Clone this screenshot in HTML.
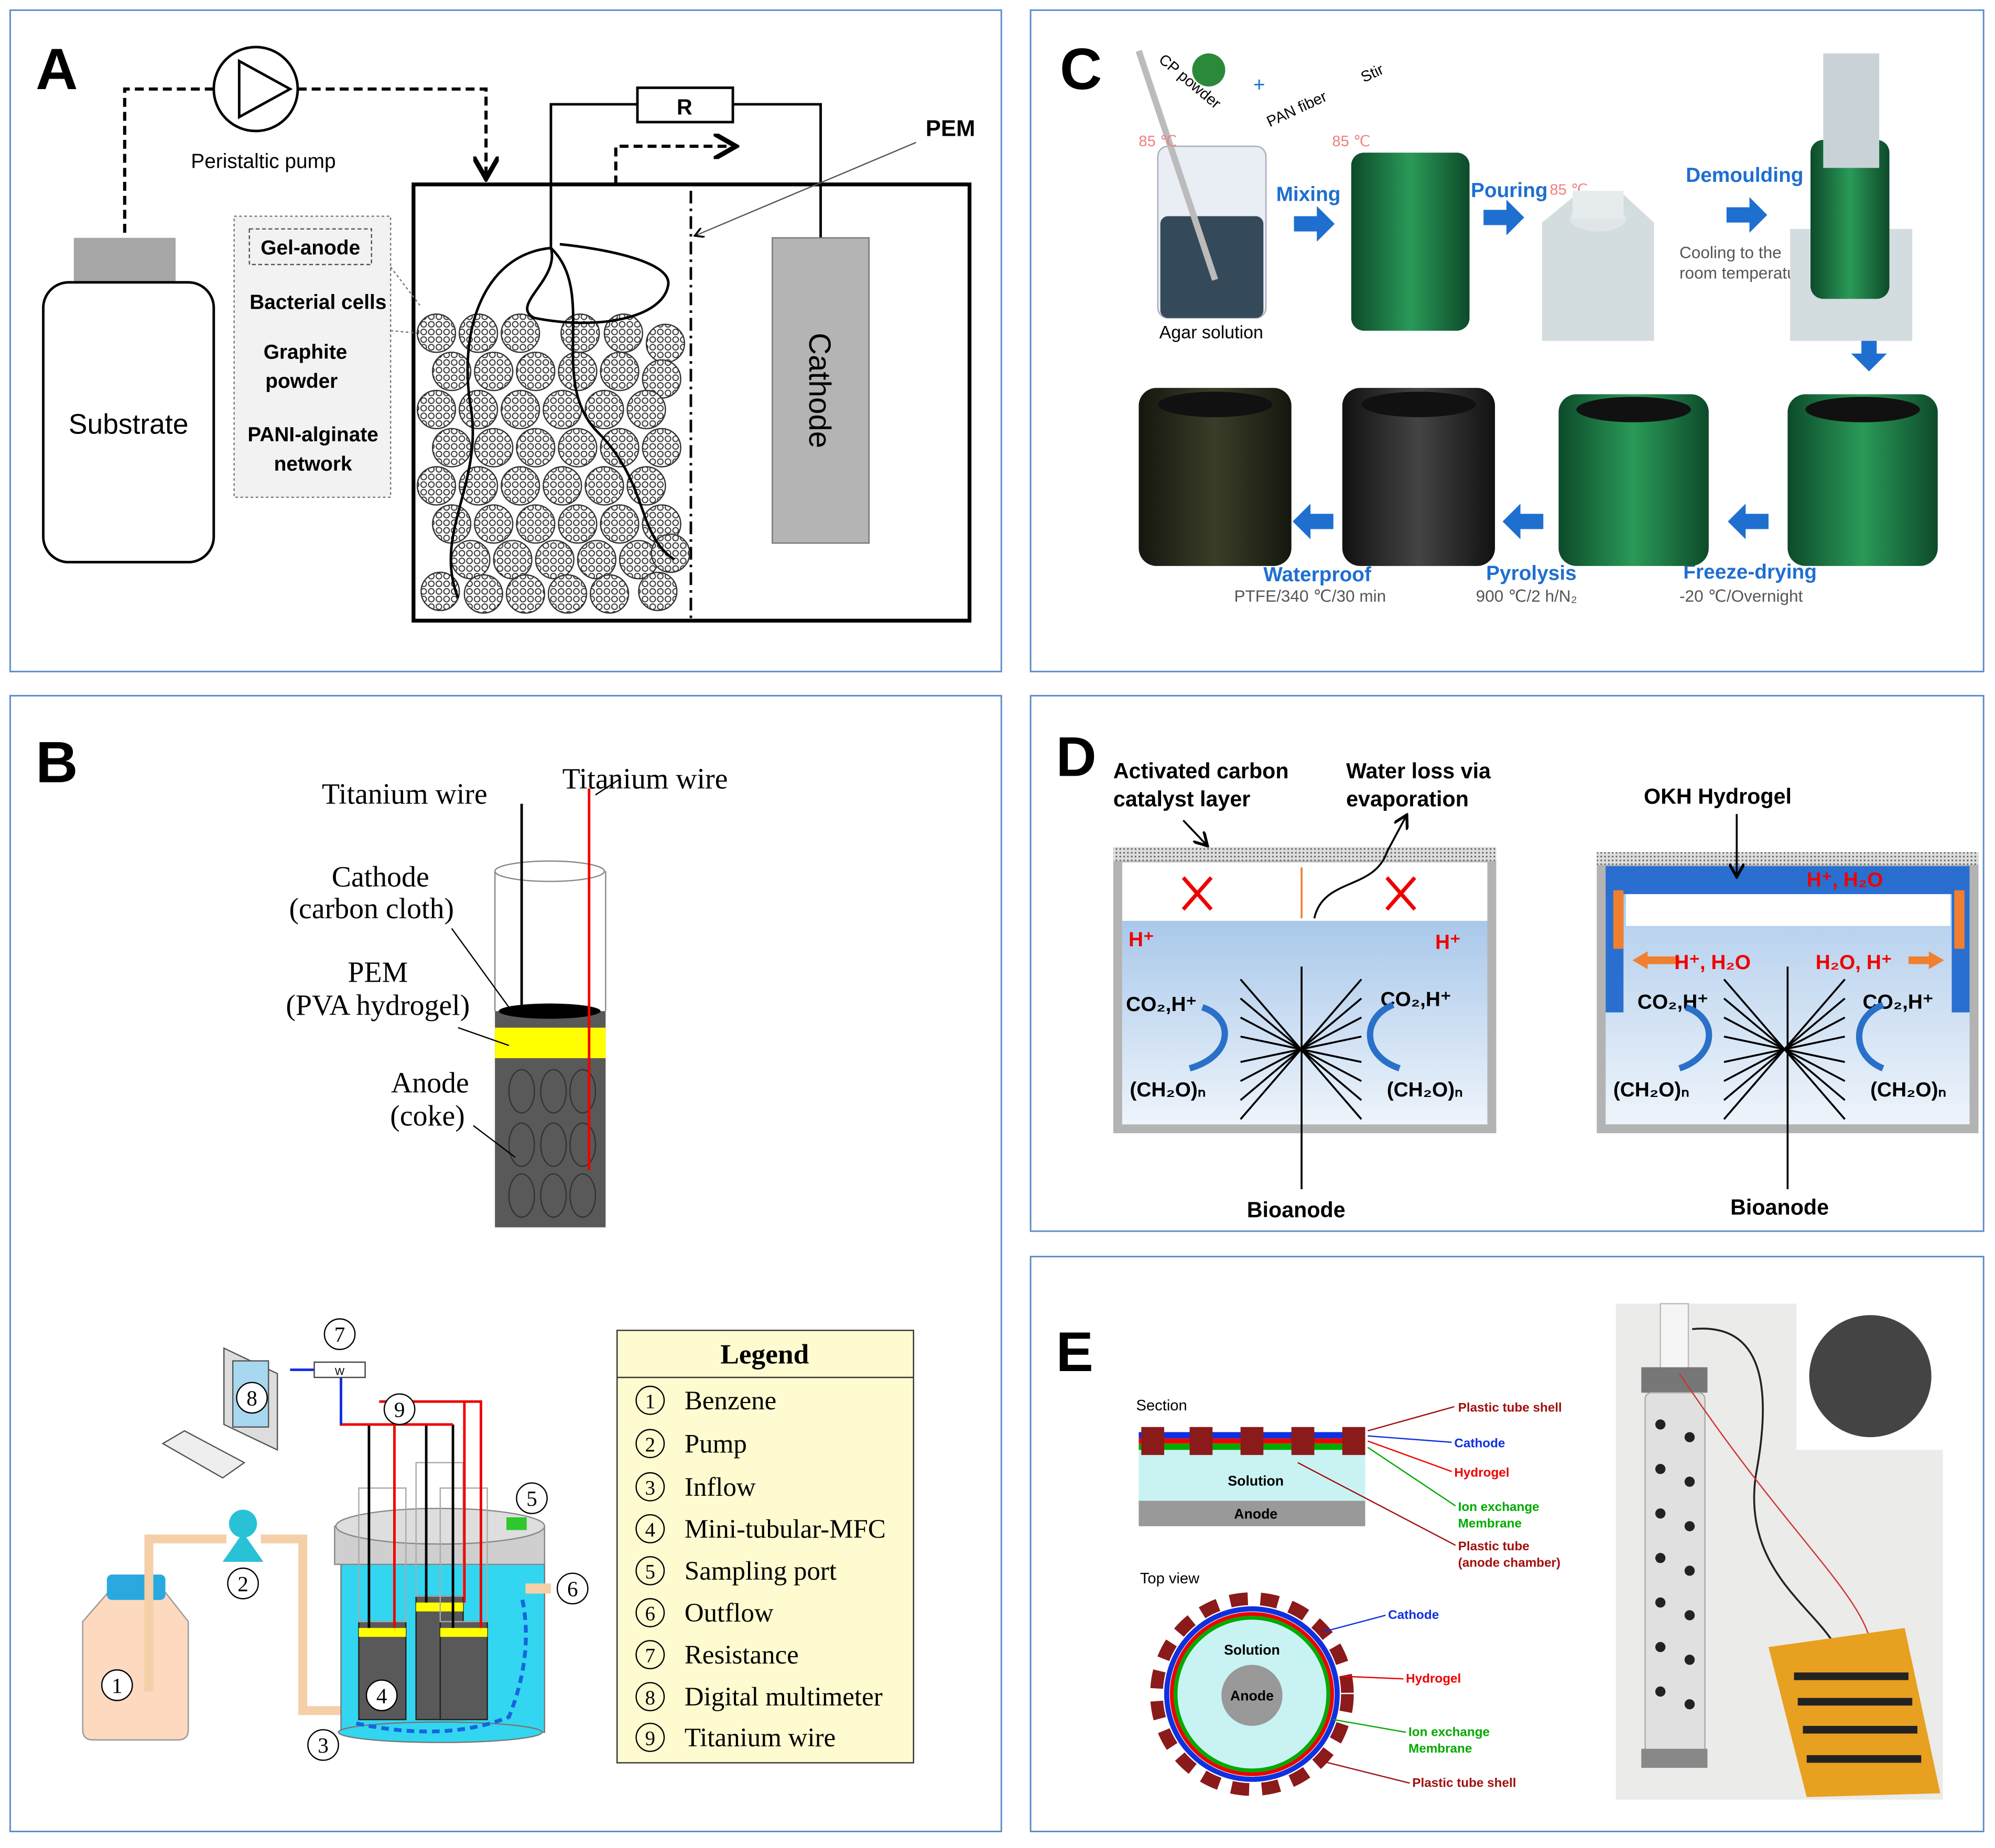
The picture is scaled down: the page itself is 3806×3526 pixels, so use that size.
<!DOCTYPE html>
<html><head><meta charset="utf-8"><style>
html,body{margin:0;padding:0;background:#fff;}
svg{display:block;}
.s{font-family:"Liberation Sans",sans-serif;}
.r{font-family:"Liberation Serif",serif;}
</style></head><body>
<svg width="3806" height="3526" viewBox="0 0 1568 1453" preserveAspectRatio="none" xmlns="http://www.w3.org/2000/svg">
<defs>
<pattern id="hx" width="6" height="6" patternUnits="userSpaceOnUse"><rect width="6" height="6" fill="#fff"/><circle cx="3" cy="3" r="2.2" fill="none" stroke="#333" stroke-width="0.8"/></pattern>
<pattern id="dots" width="3" height="3" patternUnits="userSpaceOnUse"><rect width="3" height="3" fill="#ddd"/><circle cx="1.5" cy="1.5" r="0.7" fill="#666"/></pattern>
<linearGradient id="wat" x1="0" y1="0" x2="0" y2="1"><stop offset="0" stop-color="#a9c8ea"/><stop offset="1" stop-color="#eef4fb"/></linearGradient>
<linearGradient id="grn" x1="0" y1="0" x2="1" y2="0"><stop offset="0" stop-color="#0d4a2a"/><stop offset=".5" stop-color="#2a9a58"/><stop offset="1" stop-color="#0d4a2a"/></linearGradient>
<linearGradient id="blk" x1="0" y1="0" x2="1" y2="0"><stop offset="0" stop-color="#111"/><stop offset=".5" stop-color="#444"/><stop offset="1" stop-color="#111"/></linearGradient>
<linearGradient id="olv" x1="0" y1="0" x2="1" y2="0"><stop offset="0" stop-color="#15170f"/><stop offset=".5" stop-color="#3a3d28"/><stop offset="1" stop-color="#15170f"/></linearGradient>
<marker id="ah" markerWidth="8" markerHeight="8" refX="6" refY="4" orient="auto"><path d="M0,0L7,4L0,8" fill="none" stroke="#000" stroke-width="1.5"/></marker>
</defs>
<rect width="1568" height="1453" fill="#fff"/>
<g fill="none" stroke="#5b8bc9" stroke-width="1.2">
<rect x="8" y="8" width="779" height="520"/><rect x="810" y="8" width="749" height="520"/>
<rect x="8" y="547" width="779" height="893"/><rect x="810" y="547" width="749" height="421"/>
<rect x="810" y="988" width="749" height="452"/></g>

<!-- A -->
<text x="28" y="70" class="s" font-size="46" font-weight="bold">A</text>
<g fill="none" stroke="#000" stroke-width="2.5" stroke-dasharray="7,4">
<path d="M98,183V70H168"/><path d="M234,70H382V138" marker-end="url(#ah)"/><path d="M484,145V115H576" marker-end="url(#ah)"/></g>
<circle cx="201" cy="70" r="33" fill="#fff" stroke="#000" stroke-width="2"/>
<path d="M188,48L228,70L188,92Z" fill="none" stroke="#000" stroke-width="2"/>
<text x="207" y="132" class="s" font-size="16" text-anchor="middle">Peristaltic pump</text>
<rect x="58" y="187" width="80" height="35" fill="#a6a6a6"/>
<rect x="34" y="222" width="134" height="220" rx="20" fill="#fff" stroke="#000" stroke-width="2"/>
<text x="101" y="341" class="s" font-size="22" text-anchor="middle">Substrate</text>
<rect x="325" y="145" width="437" height="343" fill="none" stroke="#000" stroke-width="3"/>
<path d="M433,195V82H501M576,82H645V187" fill="none" stroke="#000" stroke-width="2"/>
<rect x="501" y="69" width="75" height="27" fill="#fff" stroke="#000" stroke-width="2"/>
<text x="538" y="90" class="s" font-size="17" font-weight="bold" text-anchor="middle">R</text>
<rect x="607" y="187" width="76" height="240" fill="#b4b4b4" stroke="#777"/>
<text transform="translate(636,307) rotate(90)" class="s" font-size="24" text-anchor="middle">Cathode</text>
<line x1="543" y1="150" x2="543" y2="488" stroke="#000" stroke-width="2" stroke-dasharray="10,4,2,4"/>
<text x="747" y="107" class="s" font-size="18" font-weight="bold" text-anchor="middle">PEM</text>
<line x1="720" y1="112" x2="547" y2="185" stroke="#555" stroke-width="1" marker-end="url(#ah)"/>
<rect x="184" y="170" width="123" height="221" fill="#f2f2f2" stroke="#777" stroke-dasharray="2,2"/>
<rect x="196" y="180" width="96" height="28" fill="none" stroke="#555" stroke-dasharray="3,2"/>
<g class="s" font-size="16" font-weight="bold" text-anchor="middle">
<text x="244" y="200">Gel-anode</text><text x="250" y="243">Bacterial cells</text>
<text x="240" y="282">Graphite</text><text x="237" y="305">powder</text>
<text x="246" y="347">PANI-alginate</text><text x="246" y="370">network</text></g>
<path d="M307,210L330,240M307,260L330,262" stroke="#777" stroke-dasharray="2,2"/>
<g fill="url(#hx)" stroke="#333" stroke-width="1">
<circle cx="343" cy="262" r="15"/><circle cx="376" cy="262" r="15"/><circle cx="409" cy="262" r="15"/><circle cx="456" cy="262" r="15"/><circle cx="490" cy="262" r="15"/><circle cx="523" cy="270" r="15"/>
<circle cx="355" cy="292" r="15"/><circle cx="388" cy="292" r="15"/><circle cx="421" cy="292" r="15"/><circle cx="454" cy="292" r="15"/><circle cx="487" cy="292" r="15"/><circle cx="520" cy="298" r="15"/>
<circle cx="343" cy="322" r="15"/><circle cx="376" cy="322" r="15"/><circle cx="409" cy="322" r="15"/><circle cx="442" cy="322" r="15"/><circle cx="475" cy="322" r="15"/><circle cx="508" cy="322" r="15"/>
<circle cx="355" cy="352" r="15"/><circle cx="388" cy="352" r="15"/><circle cx="421" cy="352" r="15"/><circle cx="454" cy="352" r="15"/><circle cx="487" cy="352" r="15"/><circle cx="520" cy="352" r="15"/>
<circle cx="343" cy="382" r="15"/><circle cx="376" cy="382" r="15"/><circle cx="409" cy="382" r="15"/><circle cx="442" cy="382" r="15"/><circle cx="475" cy="382" r="15"/><circle cx="508" cy="382" r="15"/>
<circle cx="355" cy="412" r="15"/><circle cx="388" cy="412" r="15"/><circle cx="421" cy="412" r="15"/><circle cx="454" cy="412" r="15"/><circle cx="487" cy="412" r="15"/><circle cx="520" cy="412" r="15"/>
<circle cx="370" cy="440" r="15"/><circle cx="403" cy="440" r="15"/><circle cx="436" cy="440" r="15"/><circle cx="469" cy="440" r="15"/><circle cx="502" cy="440" r="15"/><circle cx="527" cy="435" r="15"/>
<circle cx="346" cy="465" r="15"/><circle cx="380" cy="467" r="15"/><circle cx="413" cy="467" r="15"/><circle cx="446" cy="467" r="15"/><circle cx="479" cy="467" r="15"/><circle cx="517" cy="465" r="15"/></g>
<path d="M433,195C380,200 360,260 370,320C380,380 340,420 360,470M433,195C440,220 400,240 420,250C470,260 520,250 525,225C530,205 470,195 440,192M433,195C470,230 430,300 470,340C510,380 500,420 530,440" fill="none" stroke="#000" stroke-width="2"/>

<!-- C -->
<text x="833" y="70" class="s" font-size="46" font-weight="bold">C</text>
<rect x="910" y="115" width="85" height="135" rx="8" fill="#e8eef3" stroke="#aab" />
<rect x="912" y="170" width="81" height="80" rx="6" fill="#34495a"/>
<line x1="895" y1="40" x2="955" y2="220" stroke="#bbb" stroke-width="5"/>
<text x="952" y="266" class="s" font-size="14" text-anchor="middle">Agar solution</text>
<text x="895" y="115" class="s" font-size="12" fill="#f08080">85 ℃</text>
<text x="910" y="48" class="s" font-size="12" transform="rotate(40 910 48)">CP powder</text>
<circle cx="950" cy="55" r="13" fill="#2a8a3a"/>
<text x="985" y="72" class="s" font-size="16" fill="#1e6fd0">+</text>
<text x="998" y="100" class="s" font-size="12" transform="rotate(-25 998 100)">PAN fiber</text>
<text x="1072" y="65" class="s" font-size="12" transform="rotate(-25 1072 65)">Stir</text>
<text x="1047" y="115" class="s" font-size="12" fill="#f08080">85 ℃</text>
<rect x="1062" y="120" width="93" height="140" rx="10" fill="url(#grn)"/>
<g class="s" font-size="16" font-weight="bold" fill="#1e6fd0">
<text x="1003" y="158">Mixing</text><text x="1156" y="155">Pouring</text><text x="1325" y="143">Demoulding</text>
<text x="993" y="457">Waterproof</text><text x="1168" y="456">Pyrolysis</text><text x="1323" y="455">Freeze-drying</text></g>
<text x="1218" y="153" class="s" font-size="12" fill="#f08080">85 ℃</text>
<g fill="#1e6fd0"><path d="M1017,170h18v-8l14,14-14,14v-8h-18z"/><path d="M1166,165h18v-8l14,14-14,14v-8h-18z"/><path d="M1357,163h18v-8l14,14-14,14v-8h-18z"/>
<path d="M1463,260v18h-8l14,14 14-14h-8v-18z"/><path d="M1390,404h-18v-8l-14,14 14,14v-8h18z"/><path d="M1213,404h-18v-8l-14,14 14,14v-8h18z"/><path d="M1048,404h-18v-8l-14,14 14,14v-8h18z"/></g>
<path d="M1212,175L1240,152H1275L1300,175V268H1212Z" fill="#d3dcdf"/>
<ellipse cx="1256" cy="172" rx="22" ry="10" fill="#e0e6e8"/>
<rect x="1236" y="150" width="40" height="22" fill="#e6ecee"/>
<text x="1320" y="203" class="s" font-size="13" fill="#555">Cooling to the</text>
<text x="1320" y="219" class="s" font-size="13" fill="#555">room temperature</text>
<rect x="1407" y="180" width="96" height="88" fill="#d3dcdf"/>
<rect x="1423" y="110" width="62" height="125" rx="10" fill="url(#grn)"/>
<rect x="1433" y="42" width="44" height="90" fill="#c9d3d7"/>
<rect x="1405" y="310" width="118" height="135" rx="14" fill="url(#grn)"/>
<rect x="1225" y="310" width="118" height="135" rx="14" fill="url(#grn)"/>
<rect x="1055" y="305" width="120" height="140" rx="14" fill="url(#blk)"/>
<rect x="895" y="305" width="120" height="140" rx="14" fill="url(#olv)"/>
<g fill="#111"><ellipse cx="1464" cy="322" rx="45" ry="10"/><ellipse cx="1284" cy="322" rx="45" ry="10"/><ellipse cx="1115" cy="318" rx="45" ry="10"/><ellipse cx="955" cy="318" rx="45" ry="10"/></g>
<g class="s" font-size="13" fill="#555"><text x="970" y="473">PTFE/340 ℃/30 min</text><text x="1160" y="473">900 ℃/2 h/N₂</text><text x="1320" y="473">-20 ℃/Overnight</text></g>

<!-- B -->
<text x="28" y="615" class="s" font-size="46" font-weight="bold">B</text>
<g class="r" font-size="23" text-anchor="middle">
<text x="318" y="632">Titanium wire</text><text x="507" y="620">Titanium wire</text>
<text x="299" y="697">Cathode</text><text x="292" y="722">(carbon cloth)</text>
<text x="297" y="772">PEM</text><text x="297" y="798">(PVA hydrogel)</text>
<text x="338" y="859">Anode</text><text x="336" y="885">(coke)</text></g>
<path d="M389,685V795M476,685V795" stroke="#888" fill="none"/>
<ellipse cx="432" cy="685" rx="43" ry="8" fill="none" stroke="#888"/>
<rect x="389" y="795" width="87" height="170" fill="#595959"/>
<rect x="389" y="808" width="87" height="24" fill="#ffff00"/>
<ellipse cx="432" cy="795" rx="40" ry="6" fill="#000"/>
<g fill="none" stroke="#333"><ellipse cx="410" cy="858" rx="10" ry="17"/><ellipse cx="435" cy="858" rx="10" ry="17"/><ellipse cx="458" cy="858" rx="10" ry="17"/>
<ellipse cx="410" cy="900" rx="10" ry="17"/><ellipse cx="435" cy="900" rx="10" ry="17"/><ellipse cx="458" cy="900" rx="10" ry="17"/>
<ellipse cx="410" cy="940" rx="10" ry="17"/><ellipse cx="435" cy="940" rx="10" ry="17"/><ellipse cx="458" cy="940" rx="10" ry="17"/></g>
<line x1="410" y1="632" x2="410" y2="790" stroke="#000" stroke-width="2"/>
<line x1="463" y1="620" x2="463" y2="920" stroke="#e00" stroke-width="2"/>
<path d="M355,730L400,792M360,808L400,822M372,885L405,910M468,625L488,612" stroke="#000" fill="none"/>
<rect x="485" y="1046" width="233" height="340" fill="#fffbd0" stroke="#333"/>
<line x1="485" y1="1083" x2="718" y2="1083" stroke="#333"/>
<text x="601" y="1072" class="r" font-size="22" font-weight="bold" text-anchor="middle">Legend</text>
<g class="r" font-size="21">
<g fill="none" stroke="#000"><circle cx="511" cy="1101" r="11"/><circle cx="511" cy="1135" r="11"/><circle cx="511" cy="1169" r="11"/><circle cx="511" cy="1202" r="11"/><circle cx="511" cy="1235" r="11"/><circle cx="511" cy="1268" r="11"/><circle cx="511" cy="1301" r="11"/><circle cx="511" cy="1334" r="11"/><circle cx="511" cy="1366" r="11"/></g>
<g font-size="16" text-anchor="middle"><text x="511" y="1107">1</text><text x="511" y="1141">2</text><text x="511" y="1175">3</text><text x="511" y="1208">4</text><text x="511" y="1241">5</text><text x="511" y="1274">6</text><text x="511" y="1307">7</text><text x="511" y="1340">8</text><text x="511" y="1372">9</text></g>
<text x="538" y="1108">Benzene</text><text x="538" y="1142">Pump</text><text x="538" y="1176">Inflow</text><text x="538" y="1209">Mini-tubular-MFC</text><text x="538" y="1242">Sampling port</text><text x="538" y="1275">Outflow</text><text x="538" y="1308">Resistance</text><text x="538" y="1341">Digital multimeter</text><text x="538" y="1373">Titanium wire</text></g>
<path d="M65,1275L85,1252H130L148,1275V1360Q148,1368 140,1368H73Q65,1368 65,1360Z" fill="#fcd9bf" stroke="#999"/>
<rect x="84" y="1238" width="46" height="20" rx="4" fill="#29a9e0"/>
<path d="M117,1330V1210H178M205,1210H238V1345H268" fill="none" stroke="#f5cfa8" stroke-width="7"/>
<circle cx="191" cy="1198" r="11" fill="#29c1d6"/><path d="M175,1228L191,1205L207,1228Z" fill="#29c1d6"/>
<rect x="268" y="1225" width="160" height="137" fill="#33d6f0" stroke="#777"/>
<ellipse cx="346" cy="1362" rx="80" ry="8" fill="#33d6f0" stroke="#777"/>
<path d="M263,1200H428V1230H263Z" fill="#cfcfcf" stroke="#888"/>
<ellipse cx="346" cy="1200" rx="82" ry="14" fill="#dedede" stroke="#888"/>
<rect x="398" y="1193" width="16" height="10" fill="#2ec82e"/>
<rect x="413" y="1245" width="20" height="8" fill="#f5cfa8"/>
<g fill="#595959" stroke="#222"><rect x="282" y="1275" width="37" height="77"/><rect x="327" y="1255" width="37" height="97"/><rect x="346" y="1275" width="37" height="77"/></g>
<g fill="#ff0"><rect x="282" y="1280" width="37" height="7"/><rect x="327" y="1260" width="37" height="7"/><rect x="346" y="1280" width="37" height="7"/></g>
<g fill="none" stroke="#aaa"><rect x="282" y="1170" width="37" height="105"/><rect x="327" y="1150" width="37" height="105"/><rect x="346" y="1170" width="37" height="105"/></g>
<path d="M290,1120V1280M335,1120V1260M356,1120V1280" stroke="#000" stroke-width="2" fill="none"/>
<path d="M268,1077V1120H356M298,1102H378V1280M310,1102V1280M365,1102V1260" stroke="#e00" stroke-width="2" fill="none"/>
<path d="M228,1077H268M268,1080V1120" stroke="#1030e0" stroke-width="2" fill="none"/>
<rect x="247" y="1071" width="40" height="12" fill="#fff" stroke="#444"/>
<text x="267" y="1081" class="s" font-size="8" text-anchor="middle">W</text>
<path d="M280,1355Q350,1370 400,1350Q420,1300 410,1255" fill="none" stroke="#1565e0" stroke-width="3" stroke-dasharray="6,4"/>
<path d="M176,1060L218,1080V1140L176,1120Z" fill="#ddd" stroke="#555"/>
<rect x="183" y="1070" width="28" height="52" fill="#a8d8f0" stroke="#555"/>
<path d="M128,1135L145,1125L192,1150L175,1162Z" fill="#eee" stroke="#555"/>
<g class="r" font-size="17" text-anchor="middle" fill="#000"><g fill="#fff" stroke="#000"><circle cx="92" cy="1325" r="12"/><circle cx="191" cy="1245" r="12"/><circle cx="254" cy="1372" r="12"/><circle cx="300" cy="1333" r="12"/><circle cx="418" cy="1178" r="12"/><circle cx="450" cy="1249" r="12"/><circle cx="267" cy="1049" r="12"/><circle cx="198" cy="1099" r="12"/><circle cx="314" cy="1108" r="12"/></g>
<text x="92" y="1331">1</text><text x="191" y="1251">2</text><text x="254" y="1378">3</text><text x="300" y="1339">4</text><text x="418" y="1184">5</text><text x="450" y="1255">6</text><text x="267" y="1055">7</text><text x="198" y="1105">8</text><text x="314" y="1114">9</text></g>

<!-- D -->
<text x="830" y="610" class="s" font-size="44" font-weight="bold">D</text>
<g class="s" font-size="17" font-weight="bold">
<text x="875" y="612">Activated carbon</text><text x="875" y="634">catalyst layer</text>
<text x="1058" y="612">Water loss via</text><text x="1058" y="634">evaporation</text>
<text x="1292" y="632">OKH Hydrogel</text>
<text x="980" y="957">Bioanode</text><text x="1360" y="955">Bioanode</text></g>
<rect x="875" y="668" width="301" height="223" fill="#b3b3b3"/>
<rect x="882" y="678" width="287" height="206" fill="#fff"/>
<rect x="882" y="724" width="287" height="160" fill="url(#wat)"/>
<rect x="875" y="666" width="301" height="11" fill="url(#dots)"/>
<rect x="1255" y="672" width="300" height="219" fill="#b3b3b3"/>
<rect x="1262" y="681" width="286" height="203" fill="url(#wat)"/>
<rect x="1262" y="681" width="286" height="22" fill="#2a6fd0"/>
<rect x="1262" y="681" width="14" height="115" fill="#2a6fd0"/><rect x="1534" y="681" width="14" height="115" fill="#2a6fd0"/>
<rect x="1278" y="703" width="255" height="25" fill="#fff"/>
<rect x="1255" y="670" width="300" height="10" fill="url(#dots)"/>
<g stroke="#000" stroke-width="1.5" fill="none">
<path d="M975,770L1070,880M975,880L1070,770M975,785L1070,865M975,865L1070,785M975,800L1070,850M975,850L1070,800M975,815L1070,835M975,835L1070,815"/>
<path d="M1355,770L1450,880M1355,880L1450,770M1355,785L1450,865M1355,865L1450,785M1355,800L1450,850M1355,850L1450,800M1355,815L1450,835M1355,835L1450,815"/>
<line x1="1023" y1="760" x2="1023" y2="935"/><line x1="1405" y1="760" x2="1405" y2="935"/>
<path d="M1033,722C1040,690 1080,700 1090,670L1105,642" marker-end="url(#ah)"/>
<path d="M930,645L948,664" marker-end="url(#ah)"/><path d="M1365,640V688" marker-end="url(#ah)"/></g>
<line x1="1023" y1="682" x2="1023" y2="722" stroke="#f08030" stroke-width="1.5"/>
<g stroke="#e00" stroke-width="3"><path d="M930,690L952,715M952,690L930,715M1090,690L1112,715M1112,690L1090,715"/></g>
<g fill="#f08030"><rect x="1268" y="700" width="8" height="46"/><rect x="1536" y="700" width="8" height="46"/><path d="M1283,755l12,-7v14zM1295,752h25v6h-25z"/><path d="M1528,755l-12,-7v14zM1500,752h16v6h-16z"/></g>
<g class="s" font-size="16" font-weight="bold">
<text x="887" y="744" fill="#e00">H⁺</text><text x="1128" y="746" fill="#e00">H⁺</text>
<text x="1420" y="697" fill="#e00">H⁺, H₂O</text><text x="1316" y="762" fill="#e00">H⁺, H₂O</text><text x="1427" y="762" fill="#e00">H₂O, H⁺</text>
<text x="885" y="795">CO₂,H⁺</text><text x="1085" y="791">CO₂,H⁺</text><text x="888" y="862">(CH₂O)ₙ</text><text x="1090" y="862">(CH₂O)ₙ</text>
<text x="1287" y="793">CO₂,H⁺</text><text x="1464" y="793">CO₂,H⁺</text><text x="1268" y="862">(CH₂O)ₙ</text><text x="1470" y="862">(CH₂O)ₙ</text></g>
<g fill="none" stroke="#2a70c8" stroke-width="5"><path d="M935,840C970,830 970,800 945,792"/><path d="M1100,840C1070,830 1070,800 1095,790"/><path d="M1320,840C1350,830 1350,800 1325,792"/><path d="M1480,840C1455,830 1455,800 1480,790"/></g>

<!-- E -->
<text x="830" y="1078" class="s" font-size="44" font-weight="bold">E</text>
<text x="893" y="1109" class="s" font-size="12">Section</text>
<text x="896" y="1245" class="s" font-size="12">Top view</text>
<rect x="895" y="1140" width="178" height="40" fill="#c9f3f3"/>
<rect x="895" y="1180" width="178" height="20" fill="#999"/>
<rect x="895" y="1126" width="178" height="5" fill="#1030e0"/><rect x="895" y="1131" width="178" height="4" fill="#e00"/><rect x="895" y="1135" width="178" height="5" fill="#0a0"/>
<g fill="#8b1a1a"><rect x="897" y="1122" width="18" height="22"/><rect x="935" y="1122" width="18" height="22"/><rect x="975" y="1122" width="18" height="22"/><rect x="1015" y="1122" width="18" height="22"/><rect x="1055" y="1122" width="18" height="22"/></g>
<text x="987" y="1168" class="s" font-size="11" font-weight="bold" text-anchor="middle">Solution</text>
<text x="987" y="1194" class="s" font-size="11" font-weight="bold" text-anchor="middle">Anode</text>
<circle cx="984" cy="1332" r="75" fill="none" stroke="#8b1a1a" stroke-width="10" stroke-dasharray="14,10"/>
<circle cx="984" cy="1332" r="67" fill="#c9f3f3" stroke="#1030e0" stroke-width="4"/>
<circle cx="984" cy="1332" r="63" fill="none" stroke="#e00" stroke-width="3"/>
<circle cx="984" cy="1332" r="60" fill="none" stroke="#0a0" stroke-width="3"/>
<circle cx="984" cy="1333" r="24" fill="#999"/>
<text x="984" y="1301" class="s" font-size="11" font-weight="bold" text-anchor="middle">Solution</text>
<text x="984" y="1337" class="s" font-size="11" font-weight="bold" text-anchor="middle">Anode</text>
<g class="s" font-size="10" font-weight="bold">
<text x="1146" y="1110" fill="#a01010">Plastic tube shell</text><text x="1143" y="1138" fill="#1030e0">Cathode</text>
<text x="1143" y="1161" fill="#e00">Hydrogel</text><text x="1146" y="1188" fill="#0a0">Ion exchange</text><text x="1146" y="1201" fill="#0a0">Membrane</text>
<text x="1146" y="1219" fill="#a01010">Plastic tube</text><text x="1146" y="1232" fill="#a01010">(anode chamber)</text>
<text x="1091" y="1273" fill="#1030e0">Cathode</text><text x="1105" y="1323" fill="#e00">Hydrogel</text>
<text x="1107" y="1365" fill="#0a0">Ion exchange</text><text x="1107" y="1378" fill="#0a0">Membrane</text><text x="1110" y="1405" fill="#a01010">Plastic tube shell</text></g>
<g stroke-width="1" fill="none"><path d="M1143,1106L1075,1125" stroke="#a01010"/><path d="M1141,1134L1075,1129" stroke="#1030e0"/><path d="M1141,1157L1075,1133" stroke="#e00"/><path d="M1144,1184L1075,1138" stroke="#0a0"/><path d="M1144,1215L1020,1150" stroke="#a01010"/>
<path d="M1089,1270L1040,1283" stroke="#1030e0"/><path d="M1103,1320L1055,1318" stroke="#e00"/><path d="M1105,1362L1048,1352" stroke="#0a0"/><path d="M1108,1402L1040,1385" stroke="#a01010"/></g>
<rect x="1270" y="1025" width="257" height="390" fill="#ebebe9"/>
<rect x="1412" y="1025" width="115" height="115" fill="#fff"/>
<circle cx="1470" cy="1082" r="48" fill="#444"/>
<rect x="1305" y="1025" width="22" height="55" fill="#f5f5f5" stroke="#bbb"/>
<rect x="1290" y="1075" width="52" height="20" fill="#777"/>
<rect x="1293" y="1095" width="47" height="285" rx="5" fill="#e0e0e0" stroke="#aaa"/>
<rect x="1290" y="1375" width="52" height="15" fill="#888"/>
<g fill="#222"><circle cx="1305" cy="1120" r="4"/><circle cx="1328" cy="1130" r="4"/><circle cx="1305" cy="1155" r="4"/><circle cx="1328" cy="1165" r="4"/><circle cx="1305" cy="1190" r="4"/><circle cx="1328" cy="1200" r="4"/><circle cx="1305" cy="1225" r="4"/><circle cx="1328" cy="1235" r="4"/><circle cx="1305" cy="1260" r="4"/><circle cx="1328" cy="1270" r="4"/><circle cx="1305" cy="1295" r="4"/><circle cx="1328" cy="1305" r="4"/><circle cx="1305" cy="1330" r="4"/><circle cx="1328" cy="1340" r="4"/></g>
<path d="M1330,1045C1380,1040 1395,1080 1380,1160C1370,1230 1420,1260 1440,1290" fill="none" stroke="#222" stroke-width="1.5"/>
<path d="M1320,1080C1400,1200 1460,1250 1470,1290" fill="none" stroke="#c33" stroke-width="1"/>
<path d="M1390,1295L1497,1280L1525,1410L1420,1413Z" fill="#e8a020"/>
<g fill="#222"><rect x="1410" y="1315" width="90" height="6"/><rect x="1413" y="1335" width="90" height="6"/><rect x="1417" y="1357" width="90" height="6"/><rect x="1420" y="1380" width="90" height="6"/></g>
</svg>
</body></html>
